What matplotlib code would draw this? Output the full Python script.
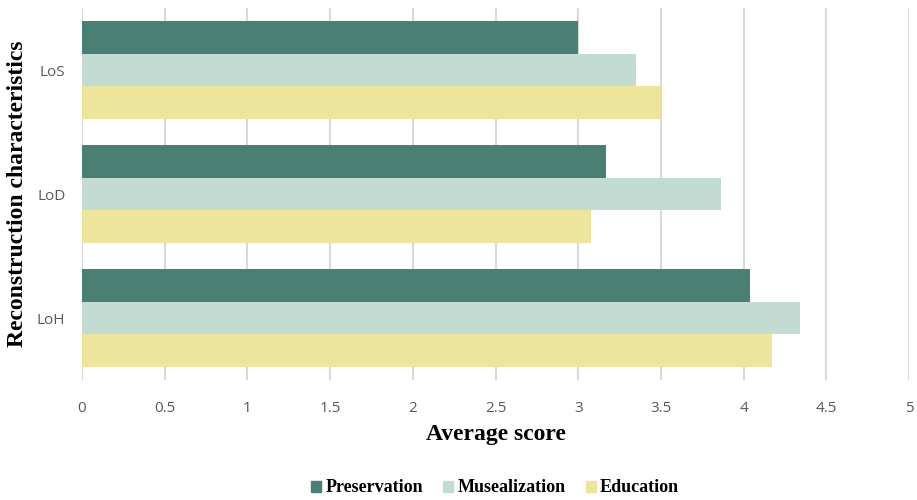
import numpy as np
import matplotlib
matplotlib.use('Agg')
import matplotlib.pyplot as plt
from matplotlib.patches import Patch

categories = ['LoH', 'LoD', 'LoS']
series_names = ['Preservation', 'Musealization', 'Education']
preservation = [4.04, 3.17, 3.00]
musealization = [4.34, 3.86, 3.35]
education = [4.17, 3.08, 3.50]
x_ticks = [0, 0.5, 1, 1.5, 2, 2.5, 3, 3.5, 4, 4.5, 5]

colors = ['#4A7F74', '#C2DBD3', '#EDE59C']
serif = ['Liberation Serif', 'DejaVu Serif']

fig = plt.figure(figsize=(9.17, 5.0), dpi=100)
ax = fig.add_axes([0.0894, 0.24, 0.902, 0.744])

y = np.arange(len(categories))
h = 0.265
for i, vals in enumerate([preservation, musealization, education]):
    ax.barh(y + (1 - i) * h, vals, height=h, color=colors[i], zorder=2)

ax.set_xlim(0, 5)
ax.set_ylim(-0.5, 2.5)
ax.set_xticks(x_ticks)
ax.set_xticklabels([f'{t:g}' for t in x_ticks])
ax.set_yticks(y)
ax.set_yticklabels(categories)
ax.grid(axis='x', color='#D9D9D9', linewidth=1.5, zorder=0)
for s in ax.spines.values():
    s.set_visible(False)
ax.tick_params(axis='both', length=0, colors='#595959', labelsize=11)
ax.tick_params(axis='x', pad=15)
ax.tick_params(axis='y', pad=12)
for lbl in ax.get_xticklabels() + ax.get_yticklabels():
    lbl.set_family(['Open Sans', 'DejaVu Sans'])

ax.set_xlabel('Average score', family=serif, fontweight='bold', fontsize=17,
              labelpad=6, color='black')
ax.set_ylabel('Reconstruction characteristics', family=serif, fontweight='bold',
              fontsize=17, labelpad=6, color='black')

handles = [Patch(color=c, label=n) for c, n in zip(colors, series_names)]
fig.legend(handles=handles, loc='center', bbox_to_anchor=(0.54, 0.024), ncol=3,
           frameon=False, prop={'family': serif, 'weight': 'bold', 'size': 13},
           handlelength=0.55, handleheight=0.55, handletextpad=0.25, columnspacing=1.1)

fig.savefig('out.png', dpi=100)
